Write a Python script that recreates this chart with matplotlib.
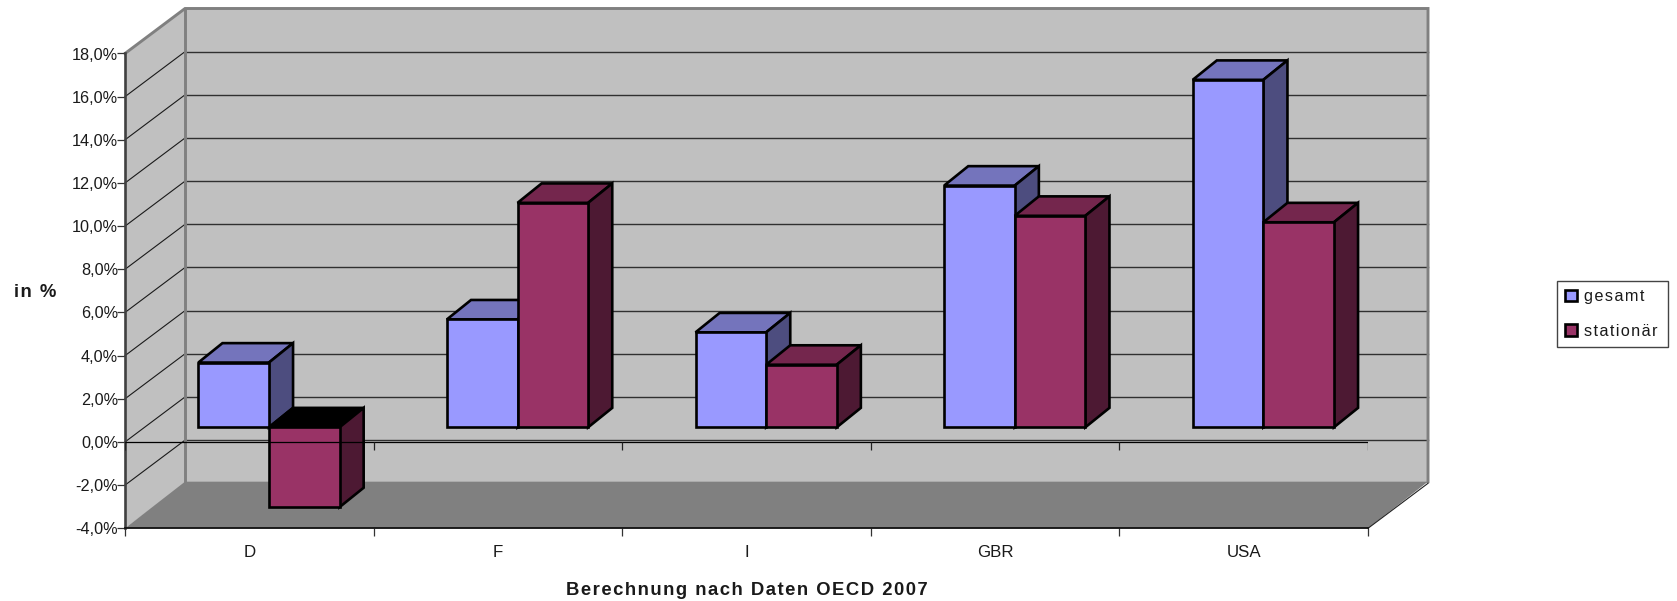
'''
OECD spending comparison drawn as a pseudo 3D column chart
'''

import matplotlib
matplotlib.use('Agg')
import numpy as np
import matplotlib.pyplot as plt
from matplotlib.patches import Patch

plt.rcParams['font.family'] = ['Liberation Sans', 'DejaVu Sans']

countries = ['D', 'F', 'I', 'GBR', 'USA']
gesamt = [3.0, 5.0, 4.4, 11.2, 16.1]
stationaer = [-3.7, 10.4, 2.9, 9.8, 9.5]
series_names = ['gesamt', 'stationär']
y_values = [-4, -2, 0, 2, 4, 6, 8, 10, 12, 14, 16, 18]
y_labels = ['-4,0%', '-2,0%', '0,0%', '2,0%', '4,0%', '6,0%',
            '8,0%', '10,0%', '12,0%', '14,0%', '16,0%', '18,0%']

# depth of the box and of the columns, in data units of the front plane
WALL_DX, WALL_DY = 0.2414, 2.085
FLOOR_DY = 2.16
BAR_DX, BAR_DY = 0.097, 0.9
SHIFT_X, SHIFT_Y = 0.079, 0.68
BAR_W = 0.284

BLUE = ('#9999ff', '#7474bc', '#4d4d7f')
RED = ('#993366', '#74264d', '#4d1933')
FONT = 11.7


def spaced(text, gap='\u200a'):
    return gap.join(text)


def draw_box(ax):
    x0, x1, y0, y1 = 0, 5, -4, 18
    dx, dy = WALL_DX, WALL_DY

    ax.fill([x0 + dx, x1 + dx, x1 + dx, x0 + dx], [y0 + dy, y0 + dy, y1 + dy, y1 + dy],
            color='#c0c0c0', lw=0, clip_on=False, zorder=0.1)
    ax.fill([x0, x0 + dx, x0 + dx, x0], [y0, y0 + dy, y1 + dy, y1],
            color='#c0c0c0', lw=0, clip_on=False, zorder=0.1)
    ax.fill([x0, x1, x1 + dx, x0 + dx], [y0, y0, y0 + FLOOR_DY, y0 + FLOOR_DY],
            color='#808080', lw=0, clip_on=False, zorder=0.2)

    for v in y_values[1:-1]:
        ax.plot([x0, x0 + dx], [v, v + dy], color='#1a1a1a', lw=0.8, clip_on=False, zorder=0.4)
        ax.plot([x0 + dx, x1 + dx], [v + dy, v + dy], color='#303030', lw=1.0,
                clip_on=False, zorder=0.4)

    # wall outlines
    ax.plot([x0, x0 + dx, x1 + dx, x1 + dx], [y1, y1 + dy, y1 + dy, y0 + FLOOR_DY],
            color='#808080', lw=2.1, clip_on=False, zorder=0.5, solid_joinstyle='miter')
    ax.plot([x0 + dx, x0 + dx], [y0 + FLOOR_DY, y1 + dy], color='#808080', lw=2.1,
            clip_on=False, zorder=0.5)
    ax.plot([x1, x1 + dx], [y0, y0 + dy], color='#222222', lw=0.8, clip_on=False, zorder=0.5)


def draw_column(ax, x, value, colors, z):
    front, top, side = colors
    x0 = x + SHIFT_X
    x1 = x0 + BAR_W
    y0 = SHIFT_Y
    y1 = y0 + value
    y_top = max(y0, y1)
    edge = dict(edgecolor='black', linewidth=1.9, joinstyle='miter', clip_on=False, zorder=z)

    # columns below zero show their dark inside on the upper face
    top_color = top if value >= 0 else 'black'
    ax.fill([x0, x1, x1 + BAR_DX, x0 + BAR_DX],
            [y_top, y_top, y_top + BAR_DY, y_top + BAR_DY], facecolor=top_color, **edge)
    ax.fill([x1, x1 + BAR_DX, x1 + BAR_DX, x1],
            [y0, y0 + BAR_DY, y1 + BAR_DY, y1], facecolor=side, **edge)
    ax.bar(x0, value, BAR_W, bottom=y0, align='edge', color=front, **edge)


fig = plt.figure(figsize=(16.77, 6.01), dpi=100)
ax = fig.add_axes([125 / 1677, (601 - 528.3) / 601, 1243 / 1677, 474.8 / 601])
ax.patch.set_alpha(0)
ax.set_xlim(0, 5)
ax.set_ylim(-4, 18)

draw_box(ax)

z = 2
for i in range(len(countries)):
    draw_column(ax, i + 0.5 - BAR_W, gesamt[i], BLUE, z)
    draw_column(ax, i + 0.5, stationaer[i], RED, z + 1)
    z += 2

# category axis at zero, in front of the columns
boundaries = np.arange(len(countries) + 1)
ax.plot([0, 5], [0, 0], color='black', lw=0.9, zorder=50)
ax.vlines(boundaries, -0.37, 0, color='#222222', lw=0.9, zorder=50)

for s in ['top', 'right']:
    ax.spines[s].set_visible(False)
ax.spines['left'].set_color('#404040')
ax.spines['left'].set_linewidth(1.9)
ax.spines['bottom'].set_color('#111111')
ax.spines['bottom'].set_linewidth(1.3)

ax.set_yticks(y_values)
ax.set_yticklabels(y_labels, fontsize=FONT, color='#1a1a1a')
ax.tick_params(axis='y', length=5.8, width=0.9, pad=-0.8, color='#333333')
ax.set_xticks(boundaries)
ax.set_xticklabels([])
ax.tick_params(axis='x', which='major', length=5.8, width=0.9, color='#333333')
ax.set_xticks(boundaries[:-1] + 0.5, minor=True)
ax.set_xticklabels(countries, minor=True, fontsize=12.2, color='#1a1a1a')
ax.tick_params(axis='x', which='minor', length=0, pad=12)

ax.set_xlabel(spaced('Berechnung nach Daten OECD 2007'), fontsize=13.3,
              fontweight='bold', color='#1a1a1a', va='center')
ax.xaxis.set_label_coords(0.5, -0.132)
ax.set_ylabel(spaced('in %'), fontsize=13.3, fontweight='bold',
              color='#1a1a1a', rotation=0, ha='center', va='center')
ax.yaxis.set_label_coords(-0.0724, 0.4966)

handles = [Patch(facecolor=BLUE[0], edgecolor='black', linewidth=1.9),
           Patch(facecolor=RED[0], edgecolor='black', linewidth=1.9)]
leg = fig.legend(handles, [spaced(n) for n in series_names], loc='upper left', mode='expand',
                 bbox_to_anchor=(1557.3 / 1677, (601 - 346.7) / 601, 110.4 / 1677, 65.7 / 601),
                 borderaxespad=0, borderpad=0.5, fontsize=FONT, handlelength=0.74,
                 handleheight=0.74, handletextpad=0.39, labelspacing=1.2,
                 fancybox=False, framealpha=1, edgecolor='#444444', labelcolor='#1a1a1a')
leg.get_frame().set_linewidth(1.0)

fig.savefig('out.png', dpi=100)
plt.clf()
